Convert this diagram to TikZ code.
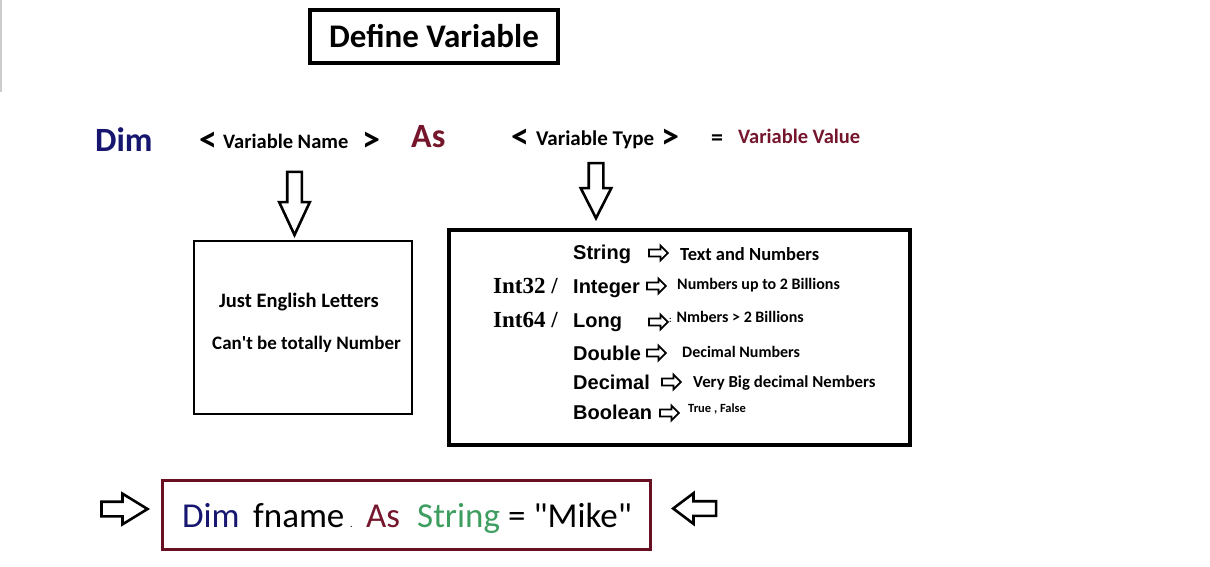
\documentclass[tikz,border=0pt]{standalone}
\usepackage{fontspec}
\setmainfont{Carlito}
\newfontfamily\arialfont{Liberation Sans}
\newfontfamily\timesfont{Liberation Serif}
\usetikzlibrary{shapes.arrows}
\definecolor{dimblue}{RGB}{22,22,112}
\definecolor{asred}{RGB}{118,22,44}
\definecolor{strgreen}{RGB}{62,158,96}
\definecolor{boxred}{RGB}{104,16,34}
\tikzstyle{frame}=[draw,inner sep=0pt]
\tikzstyle{bigarrow}=[single arrow,draw,line width=2.6pt,inner sep=6pt,single arrow head extend=8pt,minimum width=29pt,anchor=tip]
\tikzstyle{smallarrow}=[single arrow,draw,line width=1.8pt,inner xsep=0pt,inner ysep=2.6pt,single arrow head extend=4pt,minimum width=13pt,minimum height=19pt,single arrow tip angle=90,anchor=tail]
\tikzstyle{word}=[anchor=base west,inner sep=0pt]
\tikzstyle{chevron}=[word,font=\bfseries\fontsize{36}{40}\selectfont]
\tikzstyle{typename}=[word,font=\arialfont\bfseries\fontsize{20}{24}\selectfont]
\tikzstyle{typedesc}=[word,font=\bfseries\fontsize{16}{20}\selectfont]

\begin{document}
\begin{tikzpicture}[x=1pt,y=-1pt]
\useasboundingbox (0,0) rectangle (1210,566);
\draw[line width=2pt,black!20] (1,0) -- (1,92);

% title
\node[frame,line width=4pt,minimum width=248pt,minimum height=53pt,font=\bfseries\fontsize{33}{40}\selectfont] (title) at (434,36.5) {Define Variable};

% the statement
\node[word,text=dimblue,font=\bfseries\fontsize{34}{40}\selectfont] (dim) at (95,151) {Dim};
\node[chevron] (nameopen) at (199,151) {<};
\node[word,font=\bfseries\fontsize{20.5}{24}\selectfont] (varname) at (223,148) {Variable Name};
\node[chevron] (nameclose) at (362,151) {>};
\node[word,text=asred,font=\bfseries\fontsize{34}{40}\selectfont] (as) at (411,147) {As};
\node[chevron] (typeopen) at (511,148) {<};
\node[word,font=\bfseries\fontsize{21}{24}\selectfont] (vartype) at (536,145) {Variable Type};
\node[chevron] (typeclose) at (661,148) {>};
\node[word,font=\bfseries\fontsize{24}{24}\selectfont] (equal) at (711,145) {=};
\node[word,text=asred,font=\bfseries\fontsize{20.5}{24}\selectfont] (varvalue) at (738,143) {Variable Value};

% down arrows
\node[bigarrow,shape border rotate=270,minimum height=63pt,single arrow tip angle=50] (namedown) at (294.5,238) {};
\node[bigarrow,shape border rotate=270,minimum height=55pt,single arrow tip angle=54] (typedown) at (596,221) {};

% name rules
\node[frame,line width=2.5pt,minimum width=218pt,minimum height=173pt] (namebox) at (303,327.5) {};
\node[word,font=\bfseries\fontsize{20.5}{24}\selectfont] (rule1) at (219,307) {Just English Letters};
\node[word,font=\bfseries\fontsize{19}{24}\selectfont] (rule2) at (212,349) {Can\textquotesingle t be totally Number};

% types
\node[frame,line width=3.5pt,minimum width=461pt,minimum height=215pt] (typebox) at (679.5,337.5) {};
\node[typename] (tstring) at (573,259) {String};
\node[typename] (tinteger) at (573,293) {Integer};
\node[typename] (tlong) at (573,327) {Long};
\node[typename] (tdouble) at (573,360) {Double};
\node[typename] (tdecimal) at (573,389) {Decimal};
\node[typename] (tboolean) at (573,419) {Boolean};
\node[word,font=\timesfont\bfseries\fontsize{23}{26}\selectfont] (int32) at (493,293) {Int32 /};
\node[word,font=\timesfont\bfseries\fontsize{23}{26}\selectfont] (int64) at (493,327) {Int64 /};

\node[smallarrow] (astring) at (648,253) {};
\node[smallarrow] (ainteger) at (646,286) {};
\node[smallarrow] (along) at (648,322) {};
\node[smallarrow] (adouble) at (646,353) {};
\node[smallarrow] (adecimal) at (661,382) {};
\node[smallarrow] (aboolean) at (659,413) {};

\node[typedesc,font=\bfseries\fontsize{18.5}{22}\selectfont] (dstring) at (680,260) {Text and Numbers};
\node[typedesc] (dinteger) at (677,289) {Numbers up to 2 Billions};
\node[typedesc] (dlong) at (669,322) {{\fontsize{9}{10}\selectfont:} Nmbers > 2 Billions};
\node[typedesc] (ddouble) at (682,357) {Decimal Numbers};
\node[typedesc,font=\bfseries\fontsize{16.8}{20}\selectfont] (ddecimal) at (693,387) {Very Big decimal Nembers};
\node[typedesc,font=\bfseries\fontsize{12.5}{14}\selectfont] (dboolean) at (688,412) {True , False};

% example
\node[frame,draw=boxred,line width=3pt,minimum width=488pt,minimum height=69pt] (example) at (406.5,515) {};
\node[word,text=dimblue,font=\fontsize{35}{40}\selectfont] (edim) at (182,527) {Dim};
\node[word,font=\fontsize{35}{40}\selectfont] (ename) at (253,527) {fname};
\node[word,font=\fontsize{10}{12}\selectfont] (edot) at (350,527) {.};
\node[word,text=asred,font=\fontsize{35}{40}\selectfont] (eas) at (366,527) {As};
\node[word,text=strgreen,font=\fontsize{35}{40}\selectfont] (etype) at (417,527) {String};
\node[word,font=\fontsize{35}{40}\selectfont] (evalue) at (508,527) {= \textquotedbl Mike\textquotedbl};
\node[bigarrow,minimum height=46pt,single arrow tip angle=63] (eleft) at (150,509) {};
\node[bigarrow,shape border rotate=180,minimum height=43pt,single arrow tip angle=74] (eright) at (671,508.5) {};
\end{tikzpicture}
\end{document}
